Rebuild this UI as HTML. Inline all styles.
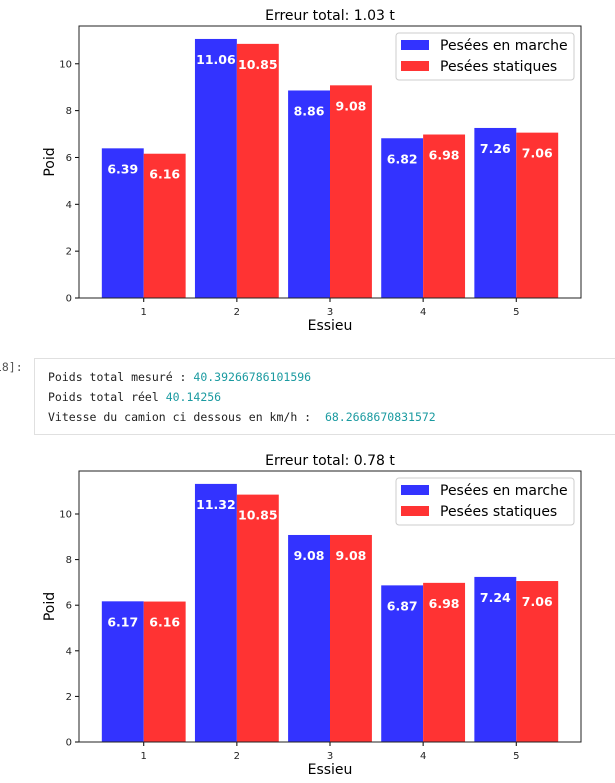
<!DOCTYPE html>
<html><head><meta charset="utf-8"><style>
body{margin:0;background:#fff;width:615px;height:783px;overflow:hidden;position:relative;font-family:"DejaVu Sans","Liberation Sans",sans-serif}
svg{position:absolute;left:0}
#out{position:absolute;left:34px;top:358px;width:590px;height:77px;border:1px solid #e0e0e0;box-sizing:border-box;background:#fff;font-family:"DejaVu Sans Mono","Liberation Mono",monospace;font-size:11.5px;color:#222}
#out div{position:absolute;left:13px;white-space:pre}
.v{color:#1a9aa0}
#prompt{position:absolute;left:-12px;top:360px;font-family:"DejaVu Sans Mono","Liberation Mono",monospace;font-size:11.5px;color:#555}
</style></head><body>
<svg id="c1" width="615" height="340" style="top:0"></svg>
<div id="prompt">[18]:</div>
<div id="out">
<div style="top:11px">Poids total mesuré : <span class="v">40.39266786101596</span></div>
<div style="top:31px">Poids total réel <span class="v">40.14256</span></div>
<div style="top:51px">Vitesse du camion ci dessous en km/h :  <span class="v">68.2668670831572</span></div>
</div>
<svg id="c2" width="615" height="343" style="top:440px"></svg>
<script>
const categories=[1,2,3,4,5];
const yTicks=[0,2,4,6,8,10];
const title1="Erreur total: 1.03 t";
const moving1=[6.39,11.06,8.86,6.82,7.26];
const static1=[6.16,10.85,9.08,6.98,7.06];
const title2="Erreur total: 0.78 t";
const moving2=[6.17,11.32,9.08,6.87,7.24];
const static2=[6.16,10.85,9.08,6.98,7.06];
const NS="http://www.w3.org/2000/svg";
function mk(svg,tag,attrs,text){const e=document.createElementNS(NS,tag);for(const k in attrs)e.setAttribute(k,attrs[k]);if(text!==undefined)e.textContent=text;svg.appendChild(e);return e;}
function draw(svg,title,mv,st,top,bottom){
 const L=79,R=581;
 const ymax=Math.max(...mv,...st)*1.05;
 const xmin=0.305,xmax=5.695;
 const X=v=>L+(v-xmin)/(xmax-xmin)*(R-L);
 const Y=v=>bottom-v/ymax*(bottom-top);
 const bw=X(0.45)-X(0);
 let t=mk(svg,'text',{x:(L+R)/2,y:top-6,'text-anchor':'middle','font-size':14,fill:'#000'},title);
 
 categories.forEach((c,i)=>{
  [[mv[i],'#3333ff',-1,'bar-moving-'+c],[st[i],'#ff3333',0,'bar-static-'+c]].forEach(([v,col,off,nm])=>{
   const x=X(c)+off*bw;
   const r=mk(svg,'rect',{x:x,y:Y(v),width:bw,height:bottom-Y(v),fill:col});
   
   const l=mk(svg,'text',{x:x+bw/2,y:Y(v)+25,'text-anchor':'middle','font-size':12.5,'font-weight':'bold',fill:'#fff'},v.toFixed(2));
   
  });
  mk(svg,'line',{x1:X(c),x2:X(c),y1:bottom,y2:bottom+4,stroke:'#000'});
  const tl=mk(svg,'text',{x:X(c),y:bottom+17,'text-anchor':'middle','font-size':10,fill:'#222'},c);
  
 });
 yTicks.forEach(v=>{
  mk(svg,'line',{x1:L-4,x2:L,y1:Y(v),y2:Y(v),stroke:'#000'});
  const tl=mk(svg,'text',{x:L-7,y:Y(v)+3.5,'text-anchor':'end','font-size':10,fill:'#222'},v);
  
 });
 mk(svg,'rect',{x:L,y:top,width:R-L,height:bottom-top,fill:'none',stroke:'#222','stroke-width':1});
 const xl=mk(svg,'text',{x:(L+R)/2,y:bottom+32,'text-anchor':'middle','font-size':14},'Essieu');
 
 const yl=mk(svg,'text',{x:0,y:0,'text-anchor':'middle','font-size':14,transform:`translate(54,${(top+bottom)/2}) rotate(-90)`},'Poid');
 
 const g=mk(svg,'g',{});
 
 mk(g,'rect',{x:396,y:top+7,width:178,height:47,rx:3,fill:'#fff',stroke:'#ccc'});
 mk(g,'rect',{x:401,y:top+14,width:28,height:10,fill:'#3333ff'});
 mk(g,'text',{x:440,y:top+24,'font-size':14},'Pesées en marche');
 mk(g,'rect',{x:401,y:top+35,width:28,height:10,fill:'#ff3333'});
 mk(g,'text',{x:440,y:top+45,'font-size':14},'Pesées statiques');
}
draw(document.getElementById('c1'),title1,moving1,static1,26,298);
draw(document.getElementById('c2'),title2,moving2,static2,31,302);
</script>
</body></html>
